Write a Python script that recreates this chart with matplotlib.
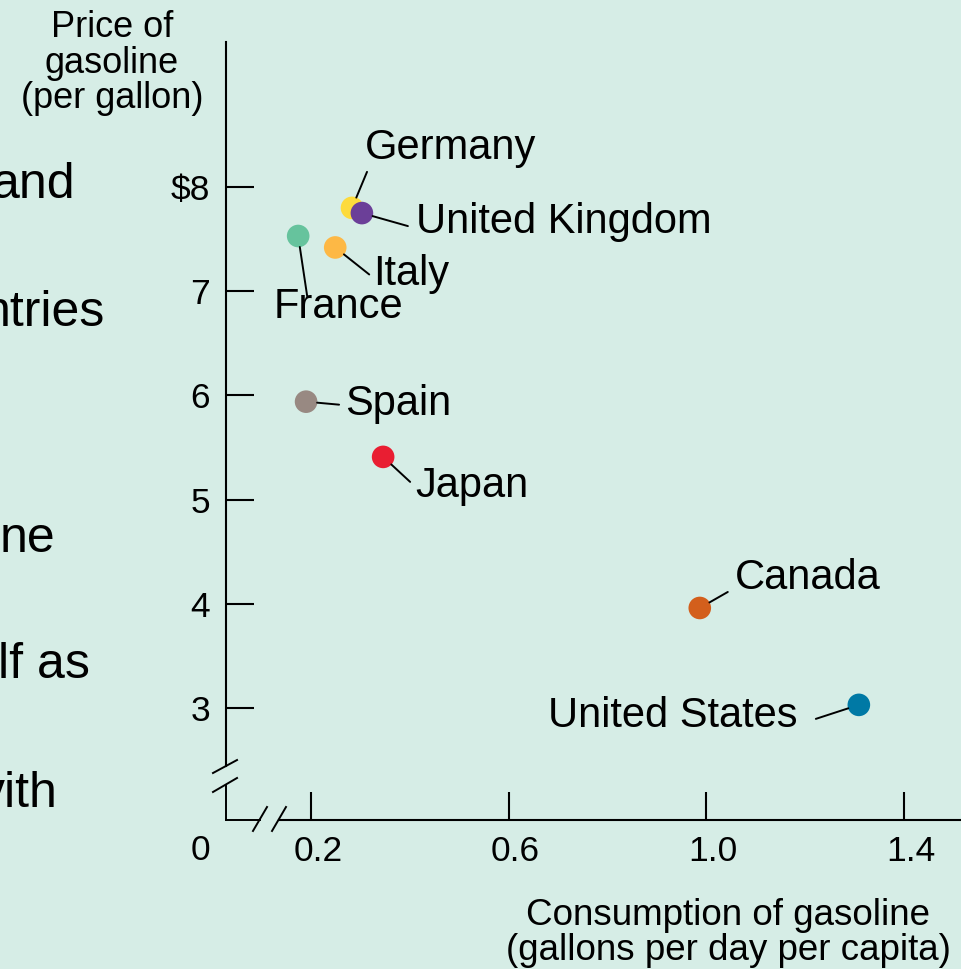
import matplotlib.pyplot as plt
from matplotlib.transforms import ScaledTranslation

plt.rcParams['font.family'] = ['Liberation Sans', 'DejaVu Sans']

# data
countries = ['Germany', 'United Kingdom', 'France', 'Italy', 'Spain',
             'Japan', 'Canada', 'United States']
consumption = [0.283, 0.303, 0.174, 0.249, 0.190, 0.346, 0.987, 1.309]
price = [7.80, 7.75, 7.53, 7.42, 5.94, 5.41, 3.96, 3.03]
colors = ['#fddb3c', '#6b3f98', '#66c39d', '#fdb845', '#988982',
          '#e91e32', '#d35f1c', '#0079a5']

x_ticks = [0.2, 0.6, 1.0, 1.4]
x_ticklabels = ['0.2', '0.6', '1.0', '1.4']
y_ticks = [3, 4, 5, 6, 7, 8]
y_ticklabels = ['3', '4', '5', '6', '7', '$8']

# label placement: end of leader line and text anchor, pixel offsets from the dot
label_layout = {
    'Germany':        ((15, 36), (13, 49), 'left'),
    'United Kingdom': ((46, -13), (54, -20), 'left'),
    'France':         ((9, -60), (-25, -82), 'left'),
    'Italy':          ((34, -27), (38, -38), 'left'),
    'Spain':          ((33, -3), (39, -13), 'left'),
    'Japan':          ((27, -25), (32, -40), 'left'),
    'Canada':         ((28, 16), (35, 19), 'left'),
    'United States':  ((-43, -14), (-61, -22), 'right'),
}

bg = '#d6ede6'
fig = plt.figure(figsize=(9.61, 9.69), dpi=100, facecolor=bg)
ax = fig.add_axes([226 / 961, 149 / 969, 735 / 961, 778 / 969])
ax.set_facecolor('none')

x0, x1 = 0.0279, 1.5158
y0, y1 = 1.925, 9.392
ax.set_xlim(x0, x1)
ax.set_ylim(y0, y1)

ax.scatter(consumption, price, s=265, c=colors, zorder=3, linewidths=0)

for name, x, y in zip(countries, consumption, price):
    (lx, ly), (tx, ty), ha = label_layout[name]
    ax.annotate('', xy=(x, y), xytext=(lx, ly), textcoords='offset pixels',
                arrowprops=dict(arrowstyle='-', color='black', lw=1.4,
                                shrinkA=0, shrinkB=8))
    ax.annotate(name, xy=(x, y), xytext=(tx, ty), textcoords='offset pixels',
                ha=ha, va='baseline', fontsize=30)

# axes styling
for s in ['top', 'right']:
    ax.spines[s].set_visible(False)
for s in ['left', 'bottom']:
    ax.spines[s].set_linewidth(1.5)
ax.spines['left'].set_bounds(y0 + 0.0694 * (y1 - y0), y1)
ax.spines['bottom'].set_bounds(x0 + 0.0721 * (x1 - x0), x1)

ax.set_xticks(x_ticks)
ax.set_xticklabels(x_ticklabels)
ax.set_yticks(y_ticks)
ax.set_yticklabels(y_ticklabels)
ax.tick_params(direction='in', length=20, width=1.5, labelsize=25.5)
ax.tick_params(axis='y', pad=11.5)
ax.tick_params(axis='x', pad=11)
shift = ScaledTranslation(7 / 100, 0, fig.dpi_scale_trans)
for lab in ax.get_xticklabels():
    lab.set_transform(lab.get_transform() + shift)

# broken axis marks
kw = dict(transform=ax.transAxes, color='black', lw=1.4, clip_on=False)
ax.plot([0, 0], [0, 0.0437], **kw)
ax.plot([0, 0.0463], [0, 0], **kw)
ax.plot([-0.0177, 0.0150], [0.0604, 0.0771], **kw)
ax.plot([-0.0177, 0.0150], [0.0360, 0.0540], **kw)
ax.plot([0.0367, 0.0558], [-0.0141, 0.0167], **kw)
ax.plot([0.0626, 0.0816], [-0.0141, 0.0167], **kw)
ax.annotate('0', xy=(0, 0), xycoords='axes fraction', xytext=(-26, -30),
            textcoords='offset pixels', ha='center', va='center', fontsize=25.5)

# axis titles, one line at a time
for line, base in zip(['Price of', 'gasoline', '(per gallon)'], [37, 73, 108]):
    fig.text(112 / 961, 1 - base / 969, line, ha='center', va='baseline', fontsize=26)
for line, base in zip(['Consumption of gasoline', '(gallons per day per capita)'], [925, 960]):
    fig.text(728 / 961, 1 - base / 969, line, ha='center', va='baseline', fontsize=26.5)

# cut-off slide text on the left
slide_words = ['and', 'ntries', 'ne', 'lf as', 'vith']
slide_right = [76, 105, 55, 90, 58]
slide_base = [198, 326, 552, 678, 807]
for w, r, b in zip(slide_words, slide_right, slide_base):
    fig.text(r / 961, 1 - b / 969, w, ha='right', va='baseline', fontsize=36)

fig.savefig('out.png', dpi=100, facecolor=bg)
